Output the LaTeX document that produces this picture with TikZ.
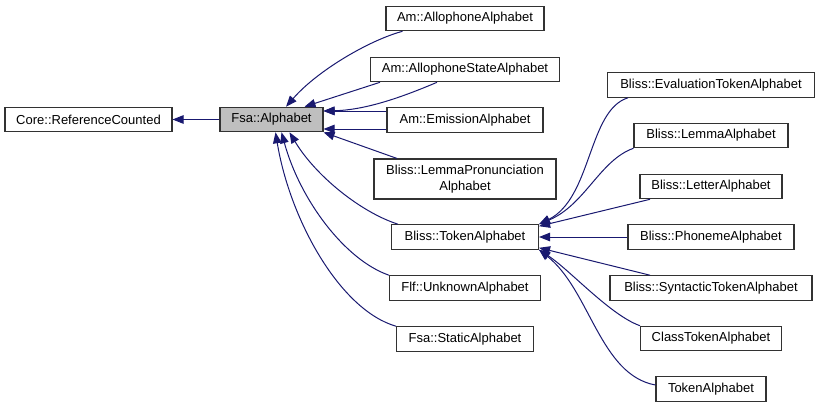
\documentclass[tikz,border=0pt]{standalone}
\usepackage{fontspec}
\setmainfont{Liberation Sans}
\usetikzlibrary{arrows.meta}
\definecolor{edgeblue}{RGB}{25,25,112}
\definecolor{boxline}{RGB}{50,50,50}
\begin{document}
\begin{tikzpicture}[x=1pt,y=-1pt,
  cls/.style={draw=boxline,line width=1.1pt,fill=white,inner sep=0pt,minimum height=24.5pt,
    font=\fontsize{13}{15.5}\selectfont,align=center},
  edge/.style={draw=edgeblue,line width=1pt,-{Triangle[length=11pt,width=8.5pt]}}]
\useasboundingbox (0,0) rectangle (820,408);
% nodes
\node[cls,minimum width=167pt] (core) at (88.5,119.5) {Core::ReferenceCounted};
\node[cls,minimum width=103pt,fill=black!25] (alpha) at (271.5,119.5) {Fsa::Alphabet};
\node[cls,minimum width=158pt] (allo) at (465,18.5) {Am::AllophoneAlphabet};
\node[cls,minimum width=189pt] (allostate) at (465,69.5) {Am::AllophoneStateAlphabet};
\node[cls,minimum width=156pt] (emis) at (465,120) {Am::EmissionAlphabet};
\node[cls,minimum width=182pt,minimum height=40pt] (lemmapron) at (465,179) {Bliss::LemmaPronunciation\\Alphabet};
\node[cls,minimum width=147pt] (token) at (465,237) {Bliss::TokenAlphabet};
\node[cls,minimum width=151pt] (flf) at (465,288) {Flf::UnknownAlphabet};
\node[cls,minimum width=137pt] (static) at (465,339) {Fsa::StaticAlphabet};
\node[cls,minimum width=207pt] (eval) at (711,85) {Bliss::EvaluationTokenAlphabet};
\node[cls,minimum width=154pt] (lemma) at (711,135.5) {Bliss::LemmaAlphabet};
\node[cls,minimum width=142pt] (letter) at (711,186.5) {Bliss::LetterAlphabet};
\node[cls,minimum width=166pt] (phon) at (711,237) {Bliss::PhonemeAlphabet};
\node[cls,minimum width=202pt] (synt) at (711,288) {Bliss::SyntacticTokenAlphabet};
\node[cls,minimum width=141pt] (classtok) at (711,338.5) {ClassTokenAlphabet};
\node[cls,minimum width=110pt] (tokalpha) at (711,389) {TokenAlphabet};
% edges to Fsa::Alphabet and Core
\draw[edge] (alpha.west) -- (core.east);
\draw[edge] ([xshift=-62.5pt]allo.south) .. controls (370,40) and (318,70) .. ([xshift=14.5pt]alpha.north);
\draw[edge] ([xshift=-85pt]allostate.south) -- ([xshift=33pt]alpha.north);
\draw[edge] ([xshift=-28pt]allostate.south) .. controls (400,98) and (365,110) .. ([yshift=8.5pt]alpha.east);
\draw[edge] ([yshift=9pt]emis.west) -- ([yshift=8.5pt]alpha.east);
\draw[edge] ([yshift=-9pt]emis.west) -- ([yshift=-9.5pt]alpha.east);
\draw[edge] ([xshift=-68pt]lemmapron.north) -- (alpha.south east);
\draw[edge] ([xshift=-67pt]token.north) .. controls (360,212) and (315,175) .. ([xshift=18pt]alpha.south);
\draw[edge] (flf.north west) .. controls (345,260) and (300,200) .. ([xshift=10pt]alpha.south);
\draw[edge] (static.north west) .. controls (340,310) and (290,220) .. ([xshift=4pt]alpha.south);
% edges to Bliss::TokenAlphabet
\draw[edge] ([xshift=-83pt]eval.south) .. controls (588,110) and (592,198) .. (token.north east);
\draw[edge] (lemma.south west) .. controls (600,160) and (585,205) .. (token.north east);
\draw[edge] ([xshift=-61pt]letter.south) -- ([yshift=-2pt]token.north east);
\draw[edge] (phon.west) -- (token.east);
\draw[edge] ([xshift=-61pt]synt.north) -- ([yshift=2pt]token.south east);
\draw[edge] (classtok.north west) .. controls (610,315) and (570,270) .. (token.south east);
\draw[edge] ([yshift=4pt]tokalpha.west) .. controls (600,375) and (590,290) .. (token.south east);
\end{tikzpicture}
\end{document}
